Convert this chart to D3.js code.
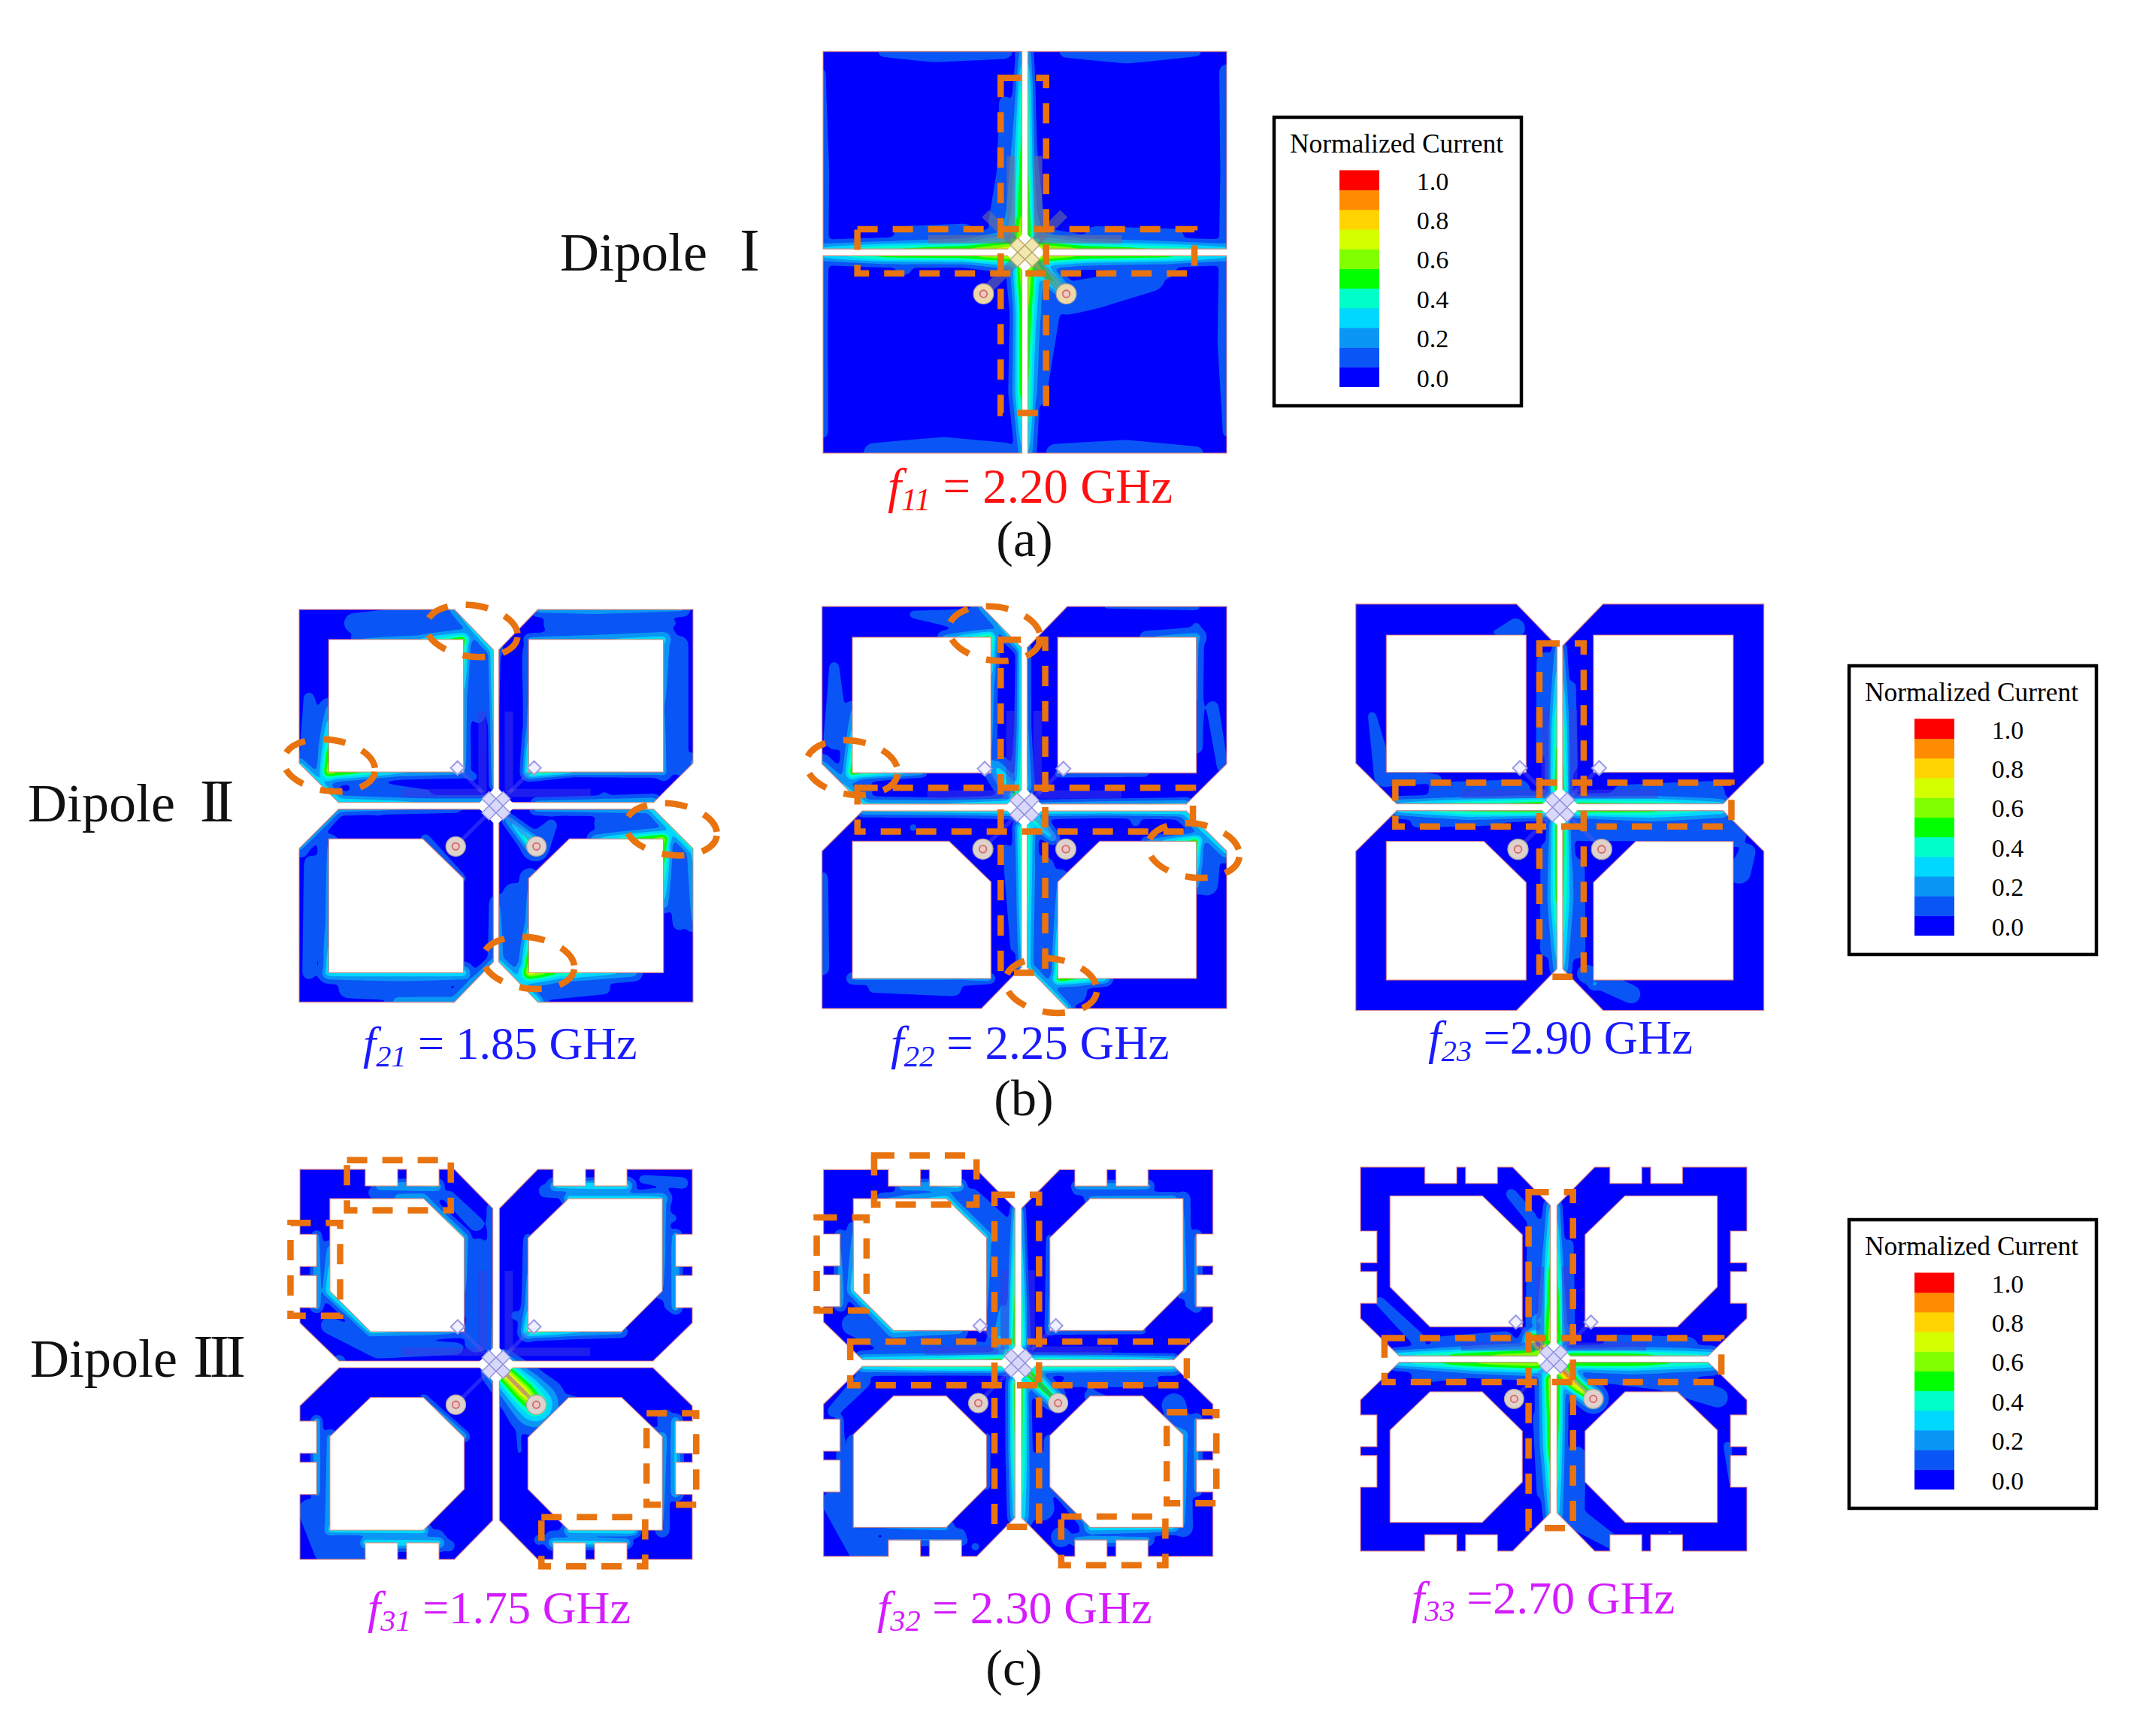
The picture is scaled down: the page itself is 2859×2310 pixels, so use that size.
<!DOCTYPE html>
<html><head><meta charset="utf-8">
<script src="https://cdn.jsdelivr.net/npm/d3@7"></script>
<style>html,body{margin:0;padding:0;background:#fff}svg{display:block}text{font-family:"Liberation Serif","Times New Roman",serif}</style>
</head><body><svg id="c" width="2859" height="2310" xmlns="http://www.w3.org/2000/svg"></svg>
<script>
// ---- colour key ----
const legendColors = ["#0000ff","#0a55f5","#0a96f5","#00d8ff","#00ffc8","#00ff00","#80ff00","#d4ff00","#ffd400","#ff8c00","#ff0000"];
const legendThresholds = [0.09,0.18,0.27,0.36,0.45,0.55,0.64,0.73,0.82,0.91];
const legendTicks = [1.0,0.8,0.6,0.4,0.2,0.0];
const legendOrigins = [[1695,156],[2460,886],[2460,1623]];

// ---- antenna outlines (upper-left quadrant, units of half a panel) ----
const outerA = [[-1,-1],[-.015,-1],[-.015,-.017],[-1,-.017]];
const outerB = [[-1,-1],[-.212,-1],[-.014,-.795],[-.014,-.017],[-.8,-.017],[-1,-.217]];
const holeTopB = [[-.85,-.847],[-.165,-.847],[-.165,-.172],[-.85,-.172]];
const holeBotB = [[-.85,.168],[-.372,.168],[-.165,.37],[-.165,.85],[-.85,.85]];
const outerC = [[-1,-1],[-.667,-1],[-.667,-.915],[-.502,-.915],[-.502,-1],[-.456,-1],[-.456,-.915],[-.291,-.915],[-.291,-1],[-.2125,-1],[-.017,-.8],[-.017,-.017],[-.8,-.017],[-1,-.2125],[-1,-.291],[-.915,-.291],[-.915,-.456],[-1,-.456],[-1,-.502],[-.915,-.502],[-.915,-.667],[-1,-.667]];
const holeTopC = [[-.847,-.85],[-.369,-.85],[-.1625,-.648],[-.1625,-.168],[-.64,-.168],[-.847,-.376]];
const holeBotC = [[-.64,.17],[-.37,.17],[-.1625,.375],[-.1625,.64],[-.37,.85],[-.847,.85],[-.847,.37]];

// ---- feed network ----
const armLines = [[[-.069,-.48],[-.069,-.07]],[[-.48,-.065],[-.07,-.065]],[[.065,-.48],[.065,-.07]],[[.07,-.065],[.48,-.065]]];
const feedLines = [[[-.196,-.193],[0,0]],[[.193,-.193],[0,0]],[[-.207,.206],[0,0]],[[.207,.206],[0,0]]];
const ports = [[-.205,.207],[.205,.207]];
const stubs = [[-.196,-.193],[.193,-.193]];
const centreCells = [[-.036,-.036],[0,0],[.036,.036],[.036,-.036],[-.036,.036]];

// ---- current-density traces: [x, y, level, reach] ----
const heatA = [
 [[-.015,-1,.3,.04],[-.015,-.8,.5,.05],[-.015,-.5,.55,.08],[-.015,-.2,.6,.11],[-.015,-.03,.78,.15]],
 [[.015,-1,.3,.04],[.015,-.8,.5,.04],[.015,-.4,.56,.05],[.015,-.1,.62,.07]],
 [[-.015,1,.3,.05],[-.015,.7,.58,.07],[-.015,.3,.62,.06],[-.015,.05,.72,.08]],
 [[.015,1,.32,.06],[.015,.75,.52,.06],[.015,.4,.58,.08],[.015,.05,.72,.11]],
 [[-1,-.017,.35,.06],[-.7,-.017,.52,.06],[-.3,-.017,.62,.07],[-.03,-.017,.78,.13]],
 [[1,-.017,.35,.06],[.7,-.017,.52,.06],[.3,-.017,.62,.07],[.03,-.017,.78,.11]],
 [[-1,.017,.35,.06],[-.7,.017,.58,.06],[-.3,.017,.62,.06],[-.03,.017,.78,.09]],
 [[1,.017,.35,.06],[.7,.017,.58,.06],[.3,.017,.62,.07],[.03,.017,.78,.09]],
 [[.03,.04,.76,.07],[.2,.2,.42,.07]]
];
const washA = [
 [[-.7,-1,.14,.05],[-.45,-1,.17,.08],[-.1,-1,.15,.06]],[[.2,-1,.15,.05],[.5,-1,.17,.09],[.85,-1,.13,.05]],
 [[-.75,1,.15,.08],[-.4,1,.17,.12],[-.1,1,.17,.08]],[[.15,1,.17,.07],[.5,1,.16,.1],[.85,1,.14,.06]],
 [[-1,-.9,.13,.03],[-1,-.4,.15,.05],[-1,.4,.15,.04],[-1,.9,.13,.05]],[[1,-.9,.15,.06],[1,-.4,.16,.05],[1,.45,.16,.07],[1,.9,.13,.04]],
 [[-.1,-.75,.14,.05],[-.08,-.4,.16,.09],[-.1,-.15,.17,.12]],[[.21,.23,.17,.12],[.36,.2,.15,.12],[.62,.12,.15,.12]],
 [[.1,.3,.17,.11],[.06,.72,.17,.07]],[[-.6,-.08,.15,.08],[-.3,-.09,.16,.08]],[[.35,-.08,.15,.08],[.75,-.08,.15,.06]],[[-.6,.07,.15,.07]],[[.7,.08,.15,.08]]
];
const heatB1 = [
 [[-.21,-1,.3,.08],[-.014,-.795,.42,.06]],
 [[-.7,-.847,.2,.06],[-.4,-.847,.3,.06],[-.17,-.847,.62,.07]],[[-.165,-.847,.6,.05],[-.165,-.55,.3,.05],[-.165,-.2,.24,.06]],
 [[-.014,-.795,.5,.04],[-.014,-.4,.4,.03],[-.014,-.1,.3,.03]],
 [[-.85,-.5,.22,.08],[-.85,-.172,.72,.08]],[[-.85,-.172,.7,.07],[-.5,-.172,.36,.05],[-.165,-.172,.25,.05]],
 [[-1,-.217,.34,.07],[-.8,-.017,.42,.07],[-.4,-.017,.34,.05],[-.05,-.017,.33,.05]],
 [[.21,-1,.26,.06],[.5,-1,.28,.08],[.95,-1,.22,.06]],[[.17,-.847,.26,.05],[.5,-.847,.3,.07],[.85,-.847,.36,.09]],
 [[.85,-.85,.3,.1],[.85,-.5,.2,.08],[.85,-.17,.24,.07]],[[1,-.22,.24,.08]],
 [[.17,-.172,.62,.05],[.4,-.172,.38,.03],[.85,-.172,.3,.04]],[[.17,-.172,.6,.05],[.17,-.4,.28,.05],[.17,-.8,.14,.06]],
 [[.8,-.017,.34,.06],[.2,-.017,.26,.04]],
 [[-1,.22,.22,.07],[-.8,.017,.28,.05],[-.2,.017,.18,.03]],
 [[-.85,.2,.2,.09],[-.85,.6,.24,.08],[-.85,.85,.42,.05]],[[-.85,.85,.4,.07],[-.5,.85,.36,.1],[-.165,.85,.4,.07]],
 [[-.5,1,.26,.1],[-.21,1,.3,.08],[-.014,.795,.3,.05]],[[-.36,.17,.24,.04],[-.17,.37,.17,.03]],
 [[.8,.017,.42,.07],[1,.217,.46,.07]],[[.8,.017,.34,.05],[.2,.017,.26,.05]],
 [[.5,.168,.3,.06],[.85,.168,.72,.07]],[[.85,.168,.7,.06],[.85,.5,.3,.07]],
 [[1,.22,.34,.08],[1,.6,.2,.07]],
 [[.014,.795,.36,.07],[.21,1,.44,.06]],[[.17,.85,.8,.09],[.32,.85,.5,.08],[.7,.85,.27,.07]],[[.17,.85,.8,.07],[.17,.6,.3,.07],[.17,.37,.18,.08]],
 [[.21,1,.3,.08]],[[.014,.5,.2,.08],[.014,.79,.26,.09]],
 [[.06,.07,.3,.05],[.19,.2,.55,.07]]
];
const washB1 = [
 [[-.72,-.93,.14,.09],[-.45,-.93,.16,.12],[-.2,-.92,.17,.1]],[[-.09,-.8,.16,.09],[-.09,-.45,.13,.06]],
 [[-.95,-.55,.14,.05],[-.93,-.3,.16,.1]],[[-.7,-.09,.15,.07],[-.35,-.06,.14,.04]],[[-.12,-.15,.13,.05]],
 [[.3,-.93,.16,.09],[.6,-.92,.15,.09],[.9,-.93,.12,.04]],[[.93,-.82,.14,.08],[.93,-.2,.14,.08]],[[.55,-.05,.14,.04]],
 [[-.93,.3,.14,.08],[-.95,.85,.14,.06]],[[-.75,.93,.15,.08],[-.3,.93,.17,.1]],[[-.6,.03,.14,.04]],
 [[.55,.09,.16,.08],[.85,.1,.16,.08]],[[.93,.25,.15,.1],[.93,.6,.14,.06]],[[.25,.93,.16,.09],[.55,.93,.13,.06]],
 [[.09,.45,.15,.09],[.09,.85,.17,.09]],[[.2,.21,.17,.11],[.28,.1,.13,.06]]
];
const heatB2 = [
 [[-.014,-.8,.5,.03],[-.014,-.4,.46,.04],[-.014,-.1,.5,.06]],[[.014,-.8,.24,.03],[.014,-.4,.26,.03],[.014,-.1,.36,.05]],
 [[-.014,.1,.52,.05],[-.014,.5,.46,.04],[-.014,.8,.36,.03]],[[.014,.1,.56,.06],[.014,.5,.46,.06],[.014,.8,.4,.06]],
 [[-.8,-.017,.36,.05],[-.4,-.017,.36,.04],[-.05,-.017,.46,.05]],[[.05,-.017,.3,.03],[.8,-.017,.38,.04]],
 [[-.8,.017,.36,.04],[-.4,.017,.4,.04],[-.05,.017,.42,.05]],[[.05,.017,.42,.05],[.4,.017,.44,.04],[.8,.017,.44,.05]],
 [[-.14,-.2,.3,.1],[-.04,-.06,.56,.08]],[[.02,.03,.56,.07],[.14,.15,.34,.05]],
 [[-.21,-1,.26,.08],[-.014,-.795,.42,.05]],[[-.4,-.847,.24,.05],[-.17,-.847,.58,.06]],[[-.165,-.847,.55,.05],[-.165,-.6,.28,.05],[-.165,-.2,.2,.05]],
 [[-.85,-.5,.2,.05],[-.85,-.172,.6,.07]],[[-.85,-.172,.6,.05],[-.5,-.172,.3,.03]],
 [[-1,-.217,.24,.08],[-.8,-.017,.4,.07]],
 [[.6,-.847,.2,.05],[.85,-.847,.27,.08]],[[.85,-.85,.24,.06],[.85,-.3,.2,.05]],
 [[.17,-.17,.26,.03],[.6,-.172,.2,.03]],
 [[.8,.017,.4,.08],[1,.217,.36,.08]],[[.6,.168,.22,.04],[.85,.168,.62,.06]],[[.85,.168,.6,.05],[.85,.4,.24,.05]],[[1,.22,.24,.06]],
 [[-.85,.85,.24,.05],[-.3,.85,.22,.06],[-.17,.85,.3,.04]],
 [[.014,.795,.34,.08],[.21,1,.4,.05]],[[.17,.85,.66,.06],[.4,.85,.4,.05]],[[.17,.85,.6,.05],[.17,.4,.2,.05]],
 [[.17,.37,.2,.1],[.17,.75,.24,.08]]
];
const washB2 = [
 [[-.55,-.96,.13,.04],[-.25,-.93,.16,.09]],[[-.94,-.7,.13,.05],[-.93,-.35,.15,.1]],[[-.8,-.09,.15,.08]],
 [[.4,-1,.12,.03],[.85,-1,.13,.04]],[[.93,-.5,.13,.06],[.98,-.2,.14,.05]],[[.85,-.9,.12,.05]],
 [[.9,.25,.16,.1],[.9,.38,.14,.1]],[[.09,.3,.17,.09],[.09,.8,.17,.09]],[[.25,.92,.16,.09]],
 [[-1,.35,.13,.06],[-1,.8,.13,.07]],[[-.75,.9,.14,.04],[-.35,.9,.16,.06]],[[-.55,.1,.13,.04]],[[.55,.07,.13,.05]],[[-.09,.2,.13,.04],[-.05,.7,.13,.04]]
];
const heatB3 = [
 [[-.015,-.79,.3,.03],[-.015,-.4,.52,.06],[-.015,-.08,.62,.06]],[[.015,-.79,.26,.03],[.015,-.4,.5,.05],[.015,-.08,.62,.05]],
 [[-.015,.08,.62,.05],[-.015,.45,.55,.07],[-.015,.8,.3,.05]],[[.015,.08,.62,.05],[.015,.45,.52,.08],[.015,.8,.34,.06]],
 [[-.8,-.017,.34,.05],[-.45,-.017,.52,.05],[-.08,-.017,.6,.06]],[[.08,-.017,.6,.05],[.45,-.017,.52,.06],[.8,-.017,.36,.05]],
 [[-.8,.017,.36,.05],[-.45,.017,.54,.07],[-.08,.017,.6,.05]],[[.08,.017,.6,.05],[.45,.017,.54,.08],[.8,.017,.36,.08]],
 [[.17,.87,.28,.05]]
];
const washB3 = [
 [[-.6,-.08,.15,.07],[-.2,-.08,.15,.09]],[[.3,-.07,.14,.07],[.75,-.07,.16,.09]],[[.1,.1,.16,.1],[.5,.1,.17,.1],[.85,.13,.16,.1]],[[-.7,.07,.15,.05],[-.3,.07,.13,.04]],
 [[-.07,-.72,.15,.07],[-.07,-.3,.14,.08]],[[.06,-.6,.13,.04],[.06,-.2,.14,.05]],[[-.07,.2,.13,.05],[-.06,.7,.15,.06]],[[.07,.3,.16,.08],[.08,.7,.16,.07]],
 [[.13,.82,.17,.07],[.35,.92,.16,.07]],[[-.92,-.45,.12,.05],[-.86,-.15,.15,.08],[-.6,-.14,.12,.05]],[[-.22,-.88,.15,.08],[-.32,-.86,.12,.03]],[[.92,.22,.14,.07],[.88,.32,.15,.09]]
];
const heatC1 = [
 [[-.6,-.915,.3,.05],[-.3,-.915,.36,.05]],[[-.5,-.85,.28,.07],[-.37,-.85,.34,.05]],
 [[-.37,-.85,.34,.05],[-.1625,-.648,.36,.05]],[[-.1625,-.648,.32,.05],[-.1625,-.3,.18,.07]],
 [[-.017,-.8,.2,.05],[-.017,-.4,.25,.03],[-.017,-.05,.27,.04]],
 [[-.915,-.66,.3,.04],[-.915,-.3,.34,.05]],[[-.847,-.6,.24,.06],[-.847,-.376,.46,.06]],
 [[-.847,-.376,.46,.06],[-.64,-.168,.38,.05],[-.3,-.168,.3,.05],[-.1625,-.168,.2,.05]],
 [[-.8,-.017,.26,.05]],
 [[.3,-.915,.36,.06],[.5,-.915,.44,.05],[.667,-.915,.4,.06]],[[.37,-.85,.42,.05],[.7,-.85,.42,.05],[.847,-.85,.34,.07]],
 [[.847,-.85,.3,.06],[.847,-.376,.2,.07]],[[.915,-.66,.32,.05],[.915,-.29,.32,.05]],
 [[.1625,-.648,.15,.04],[.1625,-.3,.3,.05],[.1625,-.168,.52,.06]],[[.1625,-.168,.56,.05],[.4,-.168,.36,.05],[.64,-.168,.26,.05]],
 [[-.915,.29,.36,.04],[-.915,.66,.34,.04]],[[-.847,.37,.26,.06],[-.847,.85,.32,.07]],[[-.847,.85,.4,.05],[-.37,.85,.44,.05]],
 [[-.667,.915,.44,.05],[-.29,.915,.38,.06]],[[-.37,.17,.24,.03],[-.1625,.37,.34,.04]],
 [[.03,.03,.85,.1],[.14,.14,.85,.13],[.2,.205,.68,.16]],[[.2,.21,.3,.15]],
 [[.37,.85,.42,.05],[.7,.85,.46,.05]],[[.667,.915,.38,.04],[.29,.915,.4,.05]],
 [[.847,.37,.32,.06],[.847,.85,.2,.06]],[[.915,.29,.36,.05],[.915,.66,.34,.06]],[[.37,.17,.14,.03],[.847,.37,.3,.04]]
];
const washC1 = [
 [[-.62,-.88,.17,.05],[-.3,-.88,.17,.06]],[[-.24,-.86,.15,.05],[-.1,-.72,.15,.06]],[[-.09,-.6,.17,.07],[-.09,-.25,.15,.07]],
 [[-.88,-.6,.15,.04],[-.88,-.35,.16,.05]],[[-.85,-.2,.15,.07],[-.6,-.08,.15,.08],[-.2,-.08,.15,.05]],[[-.12,-.45,.13,.05],[-.1,-.12,.16,.09]],
 [[.62,-.88,.17,.06],[.25,-.89,.14,.06]],[[.75,-.95,.14,.04],[.95,-.93,.15,.05]],[[.9,-.75,.14,.04]],[[.88,-.6,.16,.05],[.88,-.3,.15,.04]],[[.1,-.25,.13,.05]],
 [[-.88,.5,.15,.04]],[[-.95,.75,.16,.09],[-.85,.95,.17,.12],[-.68,.96,.17,.06]],[[-.6,.885,.16,.05],[-.3,.885,.16,.06]],[[-.24,.93,.15,.05]],
 [[.5,.89,.16,.06],[.28,.88,.14,.05]],[[.88,.45,.15,.06],[.86,.27,.14,.07]],[[.1,.15,.12,.03],[.12,.45,.12,.03]],[[.22,.9,.14,.05]]
];
const heatC2 = [
 [[-.017,-.8,.4,.03],[-.017,-.4,.56,.05],[-.017,-.1,.62,.06]],[[.017,-.8,.3,.03],[.017,-.4,.48,.04],[.017,-.1,.56,.05]],
 [[-.017,.1,.6,.05],[-.017,.45,.56,.05],[-.017,.8,.36,.05]],[[.017,.1,.6,.05],[.017,.45,.56,.06],[.017,.8,.38,.08]],
 [[-.8,-.017,.38,.06],[-.4,-.017,.5,.05],[-.08,-.017,.58,.06]],[[.08,-.017,.54,.04],[.4,-.017,.5,.04],[.8,-.017,.38,.04]],
 [[-.8,.017,.4,.06],[-.4,.017,.54,.05],[-.08,.017,.58,.05]],[[.08,.017,.56,.05],[.45,.017,.5,.05],[.8,.017,.4,.06]],
 [[.03,.03,.7,.07],[.18,.18,.58,.07]],[[-.03,-.03,.66,.06],[-.1,-.1,.34,.09],[-.08,-.3,.2,.09]],
 [[-.6,-.915,.3,.05],[-.3,-.915,.38,.05]],[[-.7,-.85,.2,.05],[-.37,-.85,.38,.07],[-.1625,-.648,.34,.08]],[[-.1625,-.648,.26,.1],[-.1625,-.2,.2,.05]],
 [[-.915,-.66,.2,.05],[-.915,-.3,.3,.05]],[[-.847,-.7,.2,.05],[-.847,-.376,.4,.06],[-.64,-.168,.34,.09],[-.3,-.168,.26,.07]],
 [[.3,-.915,.32,.04],[.667,-.915,.3,.05]],[[.37,-.85,.26,.05],[.8,-.85,.3,.05]],[[.847,-.85,.2,.06],[.847,-.376,.26,.07]],[[.915,-.66,.24,.05],[.915,-.29,.24,.05]],
 [[.1625,-.648,.2,.03],[.1625,-.168,.28,.04]],[[.1625,-.168,.28,.03],[.64,-.168,.2,.03]],
 [[-.915,.29,.24,.03],[-.915,.66,.22,.03]],[[-.847,.4,.2,.05],[-.847,.85,.2,.06]],[[-.847,.85,.2,.05],[-.37,.85,.24,.07]],
 [[-.667,.915,.22,.05],[-.29,.915,.22,.05]],[[-.1625,.38,.22,.03],[-.1625,.64,.2,.03]],
 [[.1625,.4,.2,.05],[.1625,.6,.22,.05],[.37,.85,.26,.06]],[[.37,.85,.38,.07],[.8,.85,.38,.05]],[[.3,.915,.3,.05],[.667,.915,.28,.05]],
 [[.37,.17,.2,.05],[.847,.37,.32,.07]],[[.847,.37,.3,.07],[.847,.85,.2,.08]],[[.915,.29,.26,.05],[.915,.66,.26,.05]]
];
const washC2 = [
 [[-.6,-.88,.17,.05],[-.3,-.88,.17,.06]],[[-.24,-.86,.15,.07],[-.09,-.72,.16,.07],[-.09,-.4,.16,.08]],[[-.88,-.6,.15,.04],[-.88,-.35,.17,.05]],
 [[-.85,-.2,.15,.09],[-.6,-.08,.16,.09],[-.2,-.08,.16,.05]],[[.6,-.88,.14,.05],[.3,-.89,.14,.04]],[[.88,-.6,.15,.05],[.88,-.3,.14,.04]],[[.7,-.2,.11,.03]],
 [[-.88,.5,.13,.04]],[[-.95,.72,.16,.09],[-.8,.95,.17,.12],[-.68,.96,.16,.06]],[[-.6,.885,.15,.05],[-.3,.885,.15,.05]],[[-.22,.95,.14,.04]],
 [[-.95,.25,.15,.05],[-.8,.09,.15,.07]],[[.1,.5,.15,.06],[.12,.75,.17,.1]],[[.22,.9,.17,.08]],[[.5,.885,.16,.06]],[[.88,.45,.15,.06],[.8,.22,.15,.1]],[[.25,.1,.13,.05],[.7,.1,.13,.05]]
];
const heatC3 = [
 [[-.017,-.8,.34,.05],[-.017,-.45,.58,.07],[-.017,-.1,.68,.1]],[[.017,-.8,.3,.04],[.017,-.45,.56,.05],[.017,-.1,.66,.08]],
 [[-.017,.1,.7,.08],[-.017,.45,.6,.08],[-.017,.82,.36,.05]],[[.017,.1,.66,.06],[.017,.45,.56,.06],[.017,.82,.34,.07]],
 [[-.82,-.02,.4,.05],[-.4,-.02,.62,.07],[-.08,-.02,.72,.09]],[[.08,-.02,.66,.05],[.4,-.02,.6,.06],[.82,-.02,.42,.06]],
 [[-.82,.02,.4,.05],[-.4,.02,.64,.08],[-.08,.02,.74,.09]],[[.08,.02,.66,.06],[.4,.02,.62,.08],[.82,.02,.42,.08]],
 [[-.1,-.1,1,.07],[.08,.1,1,.07],[.12,.14,.86,.07],[.205,.205,.66,.08]],[[-.08,-.2,.34,.09]],[[.07,-.15,.3,.07]]
];
const washC3 = [
 [[-.1,-.7,.15,.06],[-.09,-.3,.17,.08]],[[.08,-.6,.15,.04],[.08,-.2,.15,.05]],[[-.22,-.86,.14,.05],[-.12,-.74,.15,.05]],
 [[-.6,-.08,.15,.06],[-.25,-.1,.16,.07]],[[.3,-.09,.16,.06],[.7,-.07,.16,.07]],[[.2,.08,.15,.06],[.55,.1,.17,.09],[.85,.2,.16,.08]],[[-.7,.09,.15,.06],[-.3,.07,.13,.03]],
 [[.12,.5,.16,.07],[.1,.82,.17,.09],[.3,.95,.16,.06]],[[-.08,.3,.14,.05],[-.06,.7,.14,.05]],[[-.9,-.3,.13,.05],[-.7,-.1,.15,.06]],[[.9,.45,.14,.04],[.92,.65,.12,.03]],[[.6,.9,.13,.03]]
];

// ---- dashed annotations: rect [x0,x1,y0,y1], ellipse [cx,cy,rx,ry] ----
const rectsA = [[-.12,.105,-.868,.80],[-.83,.84,-.115,.105]];
const rectsB2 = [[-.117,.103,-.835,.822],[-.825,.833,-.098,.12]];
const rectsB3 = [[-.10,.117,-.806,.834],[-.806,.841,-.121,.095]];
const rectsC1 = [[-.76,-.231,-1.047,-.79],[-1.048,-.795,-.725,-.25],[.767,1.02,.25,.72],[.231,.76,.783,1.036]];
const rectsC2 = [[-.74,-.214,-1.073,-.82],[-1.035,-.779,-.753,-.272],[.763,1.018,.255,.725],[.221,.756,.794,1.046],[-.122,.107,-.87,.847],[-.863,.866,-.111,.115]];
const rectsC3 = [[-.13,.1,-.87,.88],[-.876,.868,-.11,.119]];
const ellipsesB1 = [[-.123,-.891,.234,.13],[-.847,-.206,.234,.13],[.889,.12,.234,.13],[.165,.80,.234,.13]];
const ellipsesB2 = [[-.147,-.865,.228,.133],[-.852,-.198,.228,.133],[.837,.214,.228,.133],[.132,.886,.228,.133]];

// ---- panels ----
const panelBounds = {a:[1095,1632,68.5,603],b1:[398,922,811,1333.5],b2:[1093.6,1632,807,1342],b3:[1803.7,2346.6,803.7,1344.6],c1:[399,921,1556,2075],c2:[1095.6,1613.6,1556.4,2071],c3:[1810,2324,1553,2064]};
const panels = [
 {id:"a",kind:"a",heat:heatA.concat(washA),rects:rectsA,ellipses:[]},
 {id:"b1",kind:"b",heat:heatB1.concat(washB1),rects:[],ellipses:ellipsesB1},
 {id:"b2",kind:"b",heat:heatB2.concat(washB2),rects:rectsB2,ellipses:ellipsesB2},
 {id:"b3",kind:"b",heat:heatB3.concat(washB3),rects:rectsB3,ellipses:[]},
 {id:"c1",kind:"c",heat:heatC1.concat(washC1),rects:rectsC1,ellipses:[]},
 {id:"c2",kind:"c",heat:heatC2.concat(washC2),rects:rectsC2,ellipses:[]},
 {id:"c3",kind:"c",heat:heatC3.concat(washC3),rects:rectsC3,ellipses:[]}
];

// ---- text ----
const dipoleLabels = [["Dipole","I",745,360,984,0],["Dipole","II",37,1093,266,-8],["Dipole","III",40,1832,257,-5]];
const captions = [
 ["f","11"," = 2.20 GHz",1181,669,"#ff1010",65],
 ["f","21"," = 1.85 GHz",483,1409,"#1a1aff",62],
 ["f","22"," = 2.25 GHz",1185,1409,"#1a1aff",63],
 ["f","23"," =2.90 GHz",1900,1402,"#1a1aff",62.5],
 ["f","31"," =1.75 GHz",489,2160,"#d41cff",62.2],
 ["f","32"," = 2.30 GHz",1167,2160,"#d41cff",62.2],
 ["f","33"," =2.70 GHz",1878,2147,"#d41cff",62.2]
];
const panelTags = [["(a)",1363,740],["(b)",1362,1484],["(c)",1349,2242]];

// ---- drawing ----
const svg = d3.select("#c");
svg.append("rect").attr("width",2859).attr("height",2310).attr("fill","#fff");
const defs = svg.append("defs");
const colorOf = d3.scaleThreshold().domain(legendThresholds).range(legendColors);
const ORANGE = "#e8730f";
const N = 300, EXT = 1.1;

function mirror(poly,sx,sy){return poly.map(([x,y])=>[x*sx,y*sy]);}
function shapePolys(kind){
  if(kind==="a") return {outer:[mirror(outerA,1,1),mirror(outerA,-1,1),mirror(outerA,1,-1),mirror(outerA,-1,-1)],holes:[]};
  const o = kind==="b"?outerB:outerC, t = kind==="b"?holeTopB:holeTopC, b = kind==="b"?holeBotB:holeBotC;
  return {outer:[mirror(o,1,1),mirror(o,-1,1),mirror(o,1,-1),mirror(o,-1,-1)],holes:[mirror(t,1,1),mirror(t,-1,1),mirror(b,1,1),mirror(b,-1,1)]};
}
// low levels spread as plateaus, high levels fall off steeply
function spread(l){const t=Math.max(0,Math.min(1,(l-.15)/.15)); return t*t*(3-2*t);}
function fieldOf(traces){
  const gx = d3.scaleLinear().domain([0,N]).range([-EXT,EXT]);
  const v = new Float64Array(N*N);
  for(const tr of traces){
    const segs = tr.length===1?[[tr[0],tr[0]]]:d3.pairs(tr);
    for(const [p,q] of segs){
      const R = Math.max(p[3],q[3])*2.1;
      const x0=Math.min(p[0],q[0])-R,x1=Math.max(p[0],q[0])+R,y0=Math.min(p[1],q[1])-R,y1=Math.max(p[1],q[1])+R;
      const i0=Math.max(0,Math.floor(gx.invert(x0))),i1=Math.min(N-1,Math.ceil(gx.invert(x1)));
      const j0=Math.max(0,Math.floor(gx.invert(y0))),j1=Math.min(N-1,Math.ceil(gx.invert(y1)));
      const dx=q[0]-p[0],dy=q[1]-p[1],L=dx*dx+dy*dy;
      for(let j=j0;j<=j1;j++){const y=gx(j+.5);
        for(let i=i0;i<=i1;i++){const x=gx(i+.5);
          const t=L?Math.max(0,Math.min(1,((x-p[0])*dx+(y-p[1])*dy)/L)):0;
          const d=Math.hypot(x-p[0]-t*dx,y-p[1]-t*dy);
          const l=p[2]+t*(q[2]-p[2]), sp=spread(l), w=(p[3]+t*(q[3]-p[3]))*(1+1.1*sp);
          if(d<w){const f=l*Math.pow(1-d/w,.5+2.6*sp); const k=i+j*N; if(f>v[k])v[k]=f;}
        }}
    }
  }
  d3.blur2({data:v,width:N,height:N},.8);
  return v;
}

panels.forEach(p=>{
  const b = panelBounds[p.id];
  const X = d3.scaleLinear().domain([-1,1]).range([b[0],b[1]]);
  const Y = d3.scaleLinear().domain([-1,1]).range([b[2],b[3]]);
  const U = (b[1]-b[0])/2;
  const s = shapePolys(p.kind);
  const line = d3.line().x(d=>X(d[0])).y(d=>Y(d[1])).curve(d3.curveLinearClosed);
  const open = d3.line().x(d=>X(d[0])).y(d=>Y(d[1]));
  const shapeD = s.outer.concat(s.holes).map(line).join("");
  defs.append("clipPath").attr("id","clip-"+p.id).append("path").attr("d",shapeD).attr("clip-rule","evenodd");
  const g = svg.append("g").attr("id",p.id);
  const clip = g.append("g").attr("clip-path",`url(#clip-${p.id})`);
  clip.append("rect").attr("x",X(-1.02)).attr("y",Y(-1.02)).attr("width",X(1.02)-X(-1.02)).attr("height",Y(1.02)-Y(-1.02)).attr("fill",legendColors[0]);
  const gx = d3.scaleLinear().domain([0,N]).range([-EXT,EXT]);
  const path = d3.geoPath(d3.geoTransform({point(x,y){this.stream.point(X(gx(x)),Y(gx(y)));}}));
  const contours = d3.contours().size([N,N]).thresholds(legendThresholds)(fieldOf(p.heat));
  clip.selectAll("path.band").data(contours).join("path").attr("class","band").attr("d",path).attr("fill",d=>colorOf(d.value));
  // feed network
  const hotA = p.kind==="a";
  clip.selectAll("path.arm").data(armLines).join("path").attr("class","arm").attr("d",open)
    .attr("fill","none").attr("stroke",hotA?"#6a6f96":"#3a3ae0").attr("stroke-opacity",hotA?.62:.5).attr("stroke-width",.042*U);
  clip.selectAll("path.feed").data(feedLines).join("path").attr("class","feed").attr("d",open)
    .attr("fill","none").attr("stroke",hotA?"#6a6f96":"#5a5af0").attr("stroke-opacity",hotA?.6:.4).attr("stroke-width",(hotA?.05:.02)*U);
  // outline
  g.append("path").attr("d",shapeD).attr("fill","none").attr("stroke","#ee8a70").attr("stroke-width",1.4).attr("stroke-opacity",.7);
  // centre
  const diamond = (c,r)=>[[c[0],c[1]-r],[c[0]+r,c[1]],[c[0],c[1]+r],[c[0]-r,c[1]]];
  g.append("path").attr("d",line(diamond([0,0],.1))).attr("fill","#fff");
  g.selectAll("path.cell").data(centreCells).join("path").attr("class","cell").attr("d",d=>line(diamond(d,.036)))
    .attr("fill",hotA?"#f0e8b0":"#d8d8fa").attr("stroke",hotA?"#b8a868":"#9090dc").attr("stroke-width",1.4);
  if(!hotA) g.selectAll("path.stub").data(stubs).join("path").attr("class","stub").attr("d",d=>line(diamond(d,.035)))
    .attr("fill","#eeeeff").attr("fill-opacity",.9).attr("stroke","#9a9ae4").attr("stroke-width",2);
  g.selectAll("circle.port").data(ports).join("circle").attr("class","port").attr("cx",d=>X(d[0])).attr("cy",d=>Y(d[1])).attr("r",.05*U)
    .attr("fill",hotA?"#ecd9a8":"#ddd3cc").attr("stroke","#b0a0a0").attr("stroke-width",1.2);
  g.selectAll("circle.pin").data(ports).join("circle").attr("class","pin").attr("cx",d=>X(d[0])).attr("cy",d=>Y(d[1])).attr("r",.018*U)
    .attr("fill","#eec8c0").attr("stroke","#d06a70").attr("stroke-width",1.8);
  // annotations
  const ann = g.append("g").attr("fill","none").attr("stroke",ORANGE).attr("stroke-width",8.5).attr("stroke-dasharray","27 20");
  ann.selectAll("path.r").data(p.rects).join("path").attr("class","r")
    .attr("d",([x0,x1,y0,y1])=>line([[x0,y0],[x1,y0],[x1,y1],[x0,y1]]));
  ann.selectAll("ellipse").data(p.ellipses).join("ellipse")
    .attr("cx",d=>X(d[0])).attr("cy",d=>Y(d[1])).attr("rx",d=>d[2]*U).attr("ry",d=>d[3]*U)
    .attr("transform",d=>`rotate(8 ${X(d[0])} ${Y(d[1])})`).attr("stroke-dasharray","30 24");
});

// legends
legendOrigins.forEach(([ox,oy])=>{
  const g = svg.append("g").attr("transform",`translate(${ox},${oy})`);
  g.append("rect").attr("width",329).attr("height",384).attr("fill","#fff").attr("stroke","#000").attr("stroke-width",4.5);
  g.append("text").attr("x",163).attr("y",47).attr("text-anchor","middle").attr("font-size",35.4).text("Normalized Current");
  const band = d3.scaleBand().domain(d3.range(legendColors.length).reverse()).range([70.5,358.5]);
  g.selectAll("rect.sw").data(d3.range(legendColors.length)).join("rect").attr("class","sw")
    .attr("x",87).attr("width",53).attr("y",d=>band(d)).attr("height",band.bandwidth()+.5).attr("fill",d=>legendColors[d]);
  const ly = d3.scaleLinear().domain([0,1]).range([358.5,96.5]);
  g.selectAll("text.tick").data(legendTicks).join("text").attr("class","tick")
    .attr("x",211).attr("y",d=>ly(d)).attr("text-anchor","middle").attr("font-size",34).text(d=>d.toFixed(1));
});

// text
dipoleLabels.forEach(([w,n,x,y,nx,ls])=>{
  svg.append("text").attr("x",x).attr("y",y).attr("font-size",72).attr("fill","#111").text(w);
  svg.append("text").attr("x",nx).attr("y",y).attr("font-size",80).attr("fill","#111").attr("letter-spacing",ls).text(n);
});
captions.forEach(([f,sub,rest,x,y,col,fs])=>{
  const t = svg.append("text").attr("x",x).attr("y",y).attr("font-size",fs).attr("fill",col);
  t.append("tspan").attr("font-style","italic").text(f);
  t.append("tspan").attr("font-style","italic").attr("font-size",fs*.65).attr("dy",10).text(sub);
  t.append("tspan").attr("dy",-10).text(rest);
});
panelTags.forEach(([s,x,y])=>svg.append("text").attr("x",x).attr("y",y).attr("text-anchor","middle").attr("font-size",68).attr("fill","#111").text(s));
</script></body></html>
